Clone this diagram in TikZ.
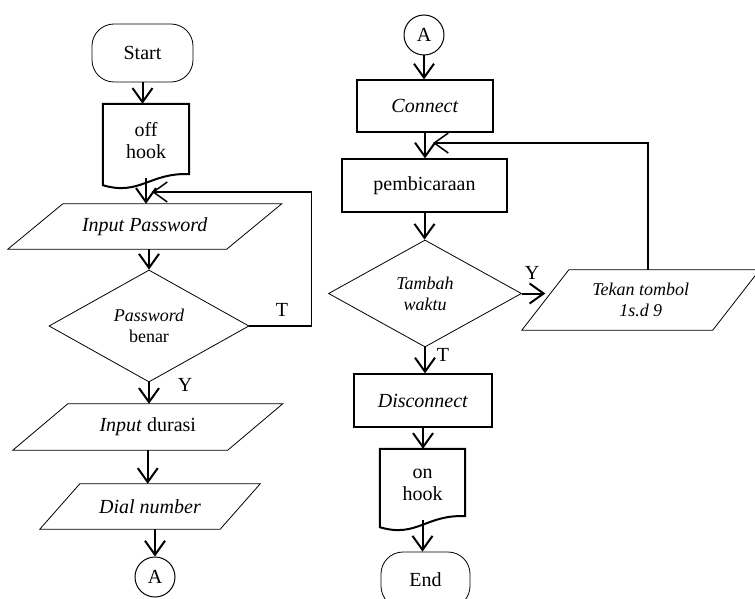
\documentclass[tikz,border=0pt]{standalone}
\usepackage{fontspec}
\setmainfont{Liberation Serif}
\usetikzlibrary{arrows.meta,shapes.geometric,positioning,calc}

\newcommand{\bigf}{\fontsize{20}{22}\selectfont}
\newcommand{\smallf}{\fontsize{18}{21}\selectfont}

% parallelogram drawn round a node
\newcommand{\iobox}[2]{%
  \draw[line width=0.8pt] ([xshift=#2]#1.north west) -- ([xshift=#2]#1.north east)
    -- ([xshift=-#2]#1.south east) -- ([xshift=-#2]#1.south west) -- cycle;}
% document shape drawn round a node
\newcommand{\docbox}[1]{%
  \draw[line width=2pt] (#1.north west) -- (#1.north east) -- ([yshift=4pt]#1.south east)
    .. controls +(-39,-2) and +(37,11) .. ([yshift=-7pt]#1.south west) -- cycle;}

\begin{document}
\begin{tikzpicture}[x=1pt, y=-1pt,
    every node/.style={font=\bigf},
    term/.style={draw, line width=0.8pt, rounded corners=22pt, minimum width=#1, minimum height=58pt},
    procbox/.style={draw, line width=1.2pt, minimum width=#1, minimum height=53pt},
    io/.style={minimum width=#1, minimum height=45pt, inner sep=0pt},
    dec/.style={diamond, draw, line width=0.8pt, inner sep=1pt, align=center, font=\smallf},
    doc/.style={minimum width=#1, inner sep=0pt, align=center},
    conn/.style={circle, draw, line width=1pt, minimum size=40pt, inner sep=0pt},
    arr/.style={line width=2pt, -{Straight Barb[length=14pt,width=20pt]}},
    back/.style={line width=1.5pt, -{Straight Barb[length=14pt,width=20pt]}}]
    \useasboundingbox (0,0) rectangle (755,599);

    % left column
    \node[term=101pt] (start) at (142.5,53) {Start};
    \node[doc=86pt, minimum height=74pt] (offhook) at (146,141) {off\\hook};
    \docbox{offhook}
    \node[io=218.5pt] (inpass) at (144.75,226.5) {\textit{Input Password}};
    \iobox{inpass}{27.5pt}
    \node[dec, minimum width=200pt, minimum height=112pt, aspect=1.8] (pwd) at (149,326) {\textit{Password}\\benar};
    \node[io=214.5pt, minimum height=46pt] (indur) at (147.75,427) {\textit{Input} durasi};
    \iobox{indur}{27.5pt}
    \node[io=180pt] (dial) at (150,506.5) {\textit{Dial number}};
    \iobox{dial}{20pt}
    \node[conn] (aout) at (155,577) {A};
    \node (pwdT) at (282,310) {T};
    \node (pwdY) at (185,385) {Y};

    \draw[arr] (start.south) -- (start.south |- offhook.north);
    \draw[arr] (offhook.south) -- (offhook.south |- inpass.north);
    \draw[arr] (pwd.north |- inpass.south) -- (pwd.north);
    \draw[arr] (pwd.south) -- (pwd.south |- indur.north);
    \draw[arr] (indur.south) -- (indur.south |- dial.north);
    \draw[arr] (aout.north |- dial.south) -- (aout.north);
    \coordinate (loopA) at (152,192);
    \draw[back] (pwd.east) -- ++(62,0) |- (loopA);

    % right column
    \node[conn] (ain) at (424,35) {A};
    \node[procbox=136pt, minimum height=52pt] (connect) at (425,106) {\textit{Connect}};
    \node[procbox=165pt] (bicara) at (424.5,185.5) {pembicaraan};
    \node[dec, font=\itshape\smallf, minimum width=193pt, minimum height=107pt, aspect=1.8] (tambah) at (425,293.5) {Tambah\\waktu};
    \node[io=190.5pt, minimum height=60pt, font=\itshape\smallf, align=center] (tekan) at (640.75,300) {Tekan tombol\\1s.d 9};
    \iobox{tekan}{23.5pt}
    \node[procbox=138pt] (disc) at (423,400.5) {\textit{Disconnect}};
    \node[doc=85pt, minimum height=71pt] (onhook) at (422.5,484.5) {on\\hook};
    \docbox{onhook}
    \node[term=89pt, minimum height=56pt] (end) at (425.5,580) {End};
    \node (tamY) at (532,273) {Y};
    \node (tamT) at (443,355) {T};

    \draw[arr] (ain.south) -- (ain.south |- connect.north);
    \draw[arr] (connect.south) -- (connect.south |- bicara.north);
    \draw[arr] (bicara.south) -- (bicara.south |- tambah.north);
    \draw[arr] (tambah.south) -- (tambah.south |- disc.north);
    \draw[arr] (disc.south) -- (disc.south |- onhook.north);
    \draw[arr] (onhook.south) -- (onhook.south |- end.north);
    \draw[arr] (tambah.east) -- (tambah.east -| tekan.west);
    \coordinate (loopB) at (433,143);
    \draw[back] ([xshift=7pt]tekan.north) |- (loopB);
\end{tikzpicture}
\end{document}
